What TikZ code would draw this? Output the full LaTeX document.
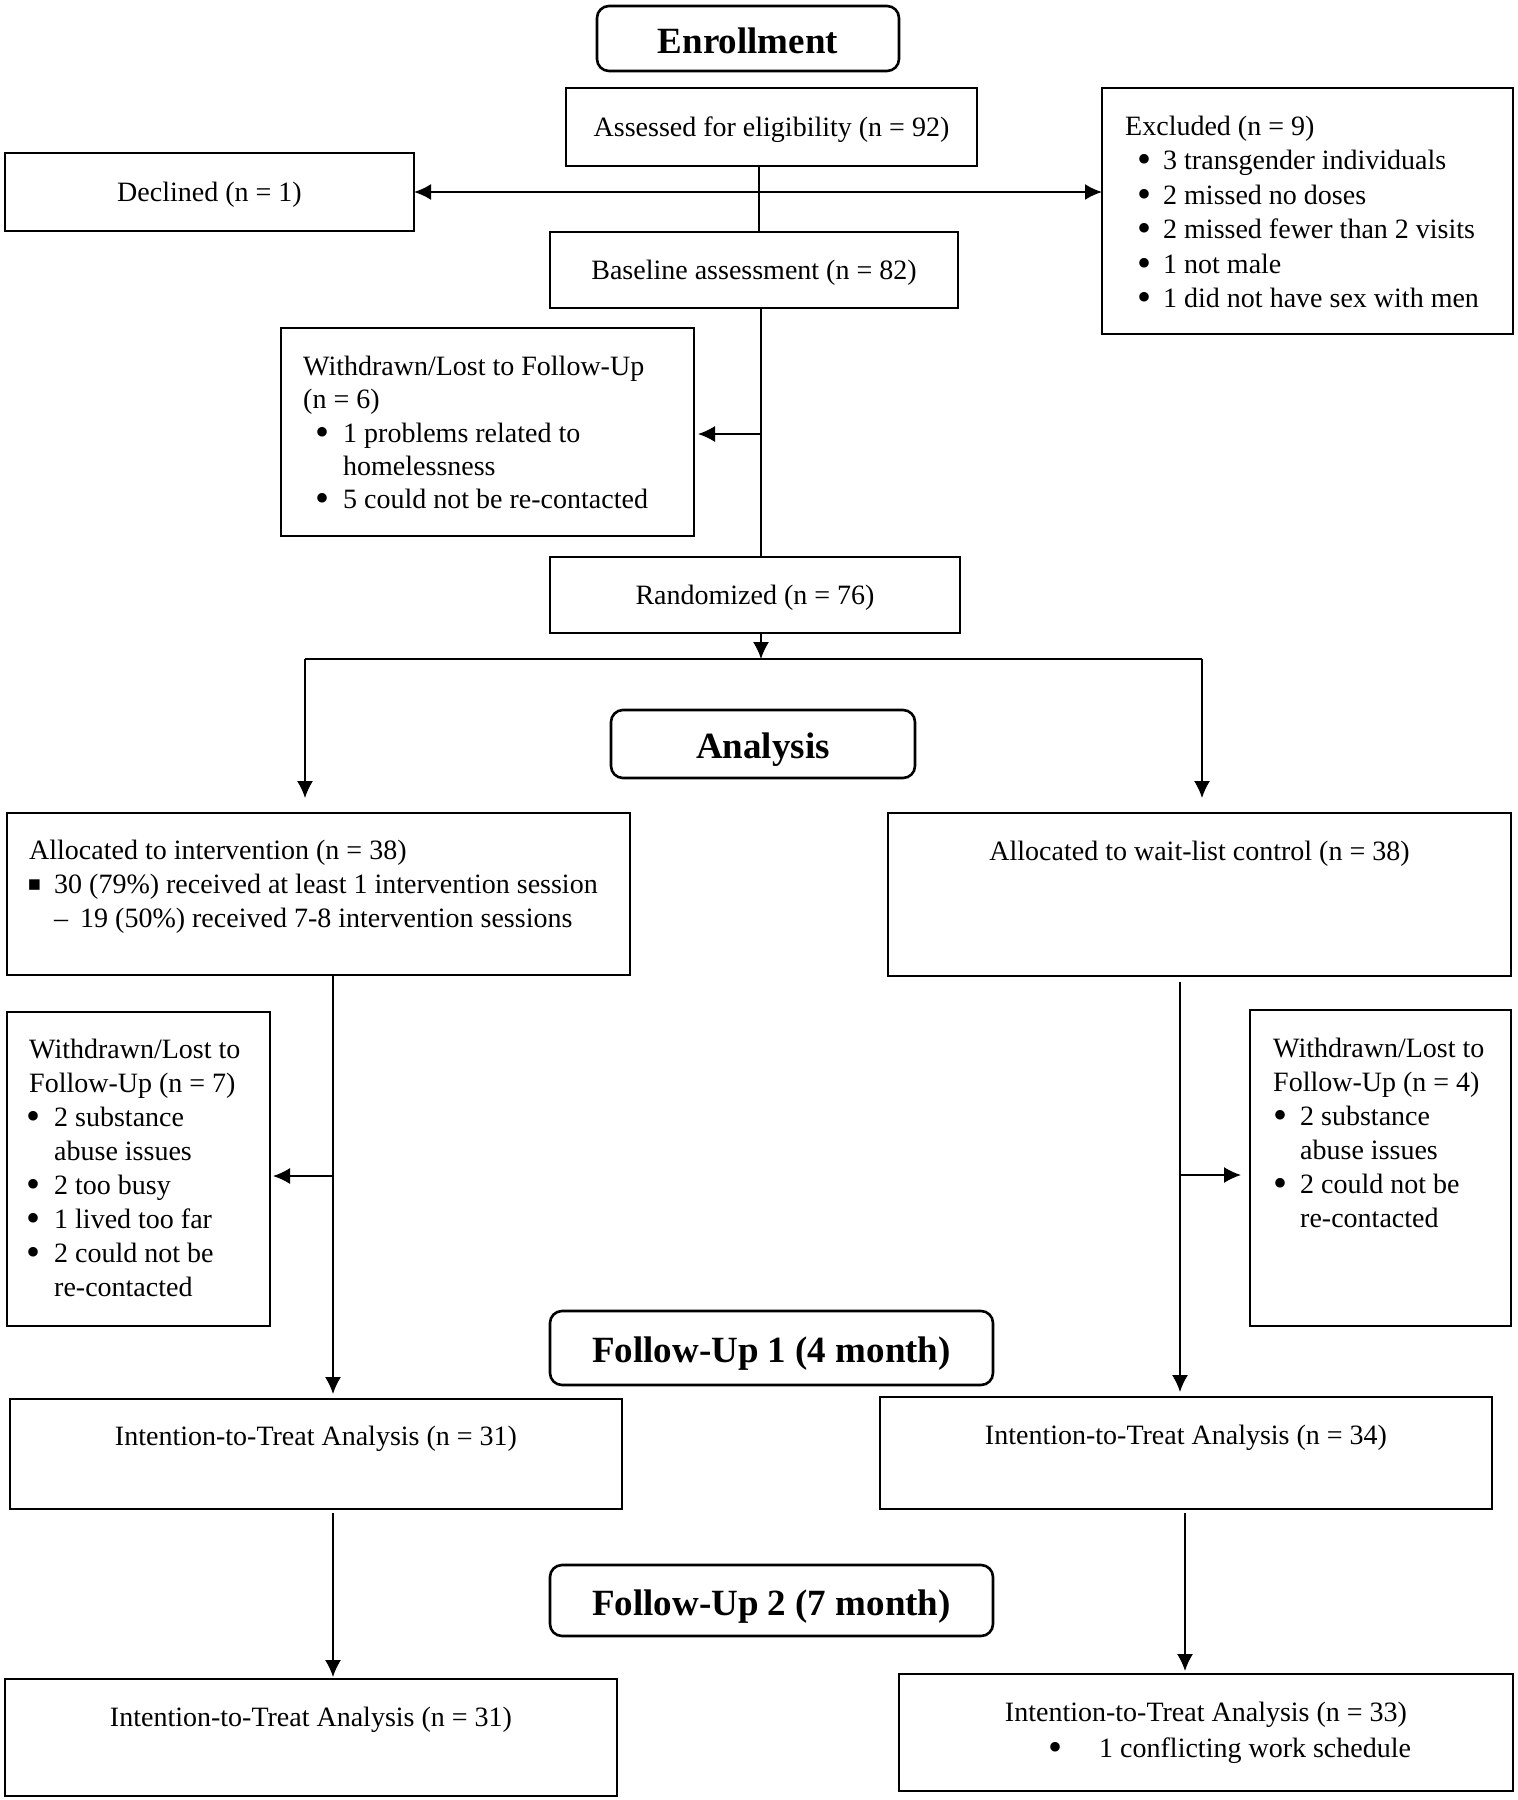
\documentclass[tikz,border=0pt]{standalone}
\usepackage{fontspec}
\setmainfont{Liberation Serif}
\newfontfamily\dvfont{DejaVu Sans}
\usetikzlibrary{arrows.meta}
\begin{document}
\begin{tikzpicture}[x=1pt,y=-1pt,
  every node/.style={font=\fontsize{28}{34}\selectfont},
  box/.style={draw, line width=2.6pt, rectangle, inner sep=0pt, outer sep=0pt, text height=20pt, text depth=1pt},
  rbox/.style={box, rounded corners=12pt, font=\fontsize{37}{44}\selectfont\bfseries, text height=30pt, text depth=1pt},
  lt/.style={inner sep=0pt, anchor=base west},
  ct/.style={inner sep=0pt, anchor=base},
  bul/.style={inner sep=0pt, anchor=base, font=\fontsize{40}{44}\selectfont, yshift=-3pt},
  conn/.style={line width=1.6pt},
  tip/.tip={Latex[length=17pt,width=16pt]},
  arr/.style={conn, -tip},
]
\fill[white] (0,0) rectangle (1518,1800);
\useasboundingbox (0,0) rectangle (1518,1800);

% boxes
\node[rbox, minimum width=302pt, minimum height=65pt] (enr) at (748,38.5) {Enrollment};
\node[box, minimum width=411pt, minimum height=78pt] (assess) at (771.5,127) {Assessed for eligibility (n = 92)};
\node[box, minimum width=409pt, minimum height=78pt] (decl) at (209.5,192) {Declined (n = 1)};
\node[box, minimum width=411pt, minimum height=246pt] (excl) at (1307.5,211) {};
\node[box, minimum width=408pt, minimum height=76pt] (base) at (754,270) {Baseline assessment (n = 82)};
\node[box, minimum width=413pt, minimum height=208pt] (wd1) at (487.5,432) {};
\node[box, minimum width=410pt, minimum height=76pt] (rand) at (755,595) {Randomized (n = 76)};
\node[rbox, minimum width=304pt, minimum height=68pt] (anl) at (763,744) {Analysis};
\node[box, minimum width=623pt, minimum height=162pt] (aint) at (318.5,894) {};
\node[box, minimum width=623pt, minimum height=163pt] (awt) at (1199.5,894.5) {};
\node[box, minimum width=263pt, minimum height=314pt] (wdl) at (138.5,1169) {};
\node[box, minimum width=261pt, minimum height=316pt] (wdr) at (1380.5,1168) {};
\node[rbox, minimum width=443pt, minimum height=74pt] (fu1) at (771.5,1348) {Follow-Up 1 (4 month)};
\node[box, minimum width=612pt, minimum height=110pt] (ittAl) at (316,1454) {};
\node[box, minimum width=612pt, minimum height=112pt] (ittAr) at (1186,1453) {};
\node[rbox, minimum width=443pt, minimum height=71pt] (fu2) at (771.5,1600.5) {Follow-Up 2 (7 month)};
\node[box, minimum width=612pt, minimum height=117pt] (ittBl) at (311,1737.5) {};
\node[box, minimum width=614pt, minimum height=117pt] (ittBr) at (1206,1732.5) {};

% Excluded
\node[lt] (ex0) at (1125,135) {Excluded (n = 9)};
\node[bul] (exb1) at (1144,169.5) {•}; \node[lt] (ex1) at (1163,169.5) {3 transgender individuals};
\node[bul] (exb2) at (1144,204) {•}; \node[lt] (ex2) at (1163,204) {2 missed no doses};
\node[bul] (exb3) at (1144,238.5) {•}; \node[lt] (ex3) at (1163,238.5) {2 missed fewer than 2 visits};
\node[bul] (exb4) at (1144,273) {•}; \node[lt] (ex4) at (1163,273) {1 not male};
\node[bul] (exb5) at (1144,307) {•}; \node[lt] (ex5) at (1163,307) {1 did not have sex with men};

% Withdrawn 1
\node[lt] (wa0) at (303,375) {Withdrawn/Lost to Follow-Up};
\node[lt] (wa1) at (303,408) {(n = 6)};
\node[bul] (wab2) at (322,442) {•}; \node[lt] (wa2) at (343,442) {1 problems related to};
\node[lt] (wa3) at (343,475) {homelessness};
\node[bul] (wab4) at (322,508) {•}; \node[lt] (wa4) at (343,508) {5 could not be re-contacted};

% Allocated intervention
\node[lt] (ai0) at (29,859) {Allocated to intervention (n = 38)};
\node[ct, font=\dvfont\fontsize{21}{24}\selectfont] (aib1) at (34.5,890) {▪};
\node[lt] (ai1) at (54,893) {30 (79\%) received at least 1 intervention session};
\node[lt] (aib2) at (54,927) {–};
\node[lt] (ai2) at (80,927) {19 (50\%) received 7-8 intervention sessions};

% Allocated wait-list
\node[ct] (aw0) at (1199.5,860) {Allocated to wait-list control (n = 38)};

% Withdrawn left
\node[lt] (wl0) at (29,1058) {Withdrawn/Lost to};
\node[lt] (wl1) at (29,1092) {Follow-Up (n = 7)};
\node[bul] (wlb2) at (34,1126) {•}; \node[lt] (wl2) at (54,1126) {2 substance};
\node[lt] (wl3) at (54,1160) {abuse issues};
\node[bul] (wlb4) at (34,1194) {•}; \node[lt] (wl4) at (54,1194) {2 too busy};
\node[bul] (wlb5) at (34,1228) {•}; \node[lt] (wl5) at (54,1228) {1 lived too far};
\node[bul] (wlb6) at (34,1262) {•}; \node[lt] (wl6) at (54,1262) {2 could not be};
\node[lt] (wl7) at (54,1296) {re-contacted};

% Withdrawn right
\node[lt] (wr0) at (1273,1057.5) {Withdrawn/Lost to};
\node[lt] (wr1) at (1273,1091.5) {Follow-Up (n = 4)};
\node[bul] (wrb2) at (1280,1125.5) {•}; \node[lt] (wr2) at (1300,1125.5) {2 substance};
\node[lt] (wr3) at (1300,1159.5) {abuse issues};
\node[bul] (wrb4) at (1280,1193.5) {•}; \node[lt] (wr4) at (1300,1193.5) {2 could not be};
\node[lt] (wr5) at (1300,1227.5) {re-contacted};

% ITT texts
\node[ct] (ta) at (316,1445) {Intention-to-Treat Analysis (n = 31)};
\node[ct] (tb) at (1186,1444) {Intention-to-Treat Analysis (n = 34)};
\node[ct] (tc) at (311,1726) {Intention-to-Treat Analysis (n = 31)};
\node[ct] (td) at (1206,1721) {Intention-to-Treat Analysis (n = 33)};
\node[bul] (tdb) at (1055,1757) {•}; \node[lt] (td1) at (1099,1757) {1 conflicting work schedule};

% connectors
\coordinate (jA) at (759,192);
\draw[conn] (jA |- assess.south) -- (jA |- base.north);
\draw[conn, line width=2pt, tip-tip] (decl.east) -- (decl.east -| excl.west);

\coordinate (jB) at (761,434);
\draw[conn] (jB |- base.south) -- (jB |- rand.north);
\draw[arr, shorten >=4pt] (jB) -- (jB -| wd1.east);

\coordinate (jC) at (761,659);
\draw[arr] (jC |- rand.south) -- (jC);
\coordinate (jL) at (305,659);
\coordinate (jR) at (1202,659);
\draw[line width=2.4pt] (jL) -- (jR);
\draw[arr, shorten >=15pt] (jL) -- (jL |- aint.north);
\draw[arr, shorten >=15pt] (jR) -- (jR |- awt.north);

\coordinate (jD) at (333,1176);
\draw[arr, shorten >=5pt] (jD |- aint.south) -- (jD |- ittAl.north);
\draw[arr, shorten >=3pt] (jD) -- (jD -| wdl.east);
\coordinate (jE) at (1180,1175);
\draw[arr, shorten <=6pt, shorten >=5pt] (jE |- awt.south) -- (jE |- ittAr.north);
\draw[arr, shorten >=9pt] (jE) -- (jE -| wdr.west);

\coordinate (jF) at (333,1600);
\draw[arr, shorten <=4pt, shorten >=2pt] (jF |- ittAl.south) -- (jF |- ittBl.north);
\coordinate (jG) at (1185,1600);
\draw[arr, shorten <=4pt, shorten >=3pt] (jG |- ittAr.south) -- (jG |- ittBr.north);
\end{tikzpicture}
\end{document}
